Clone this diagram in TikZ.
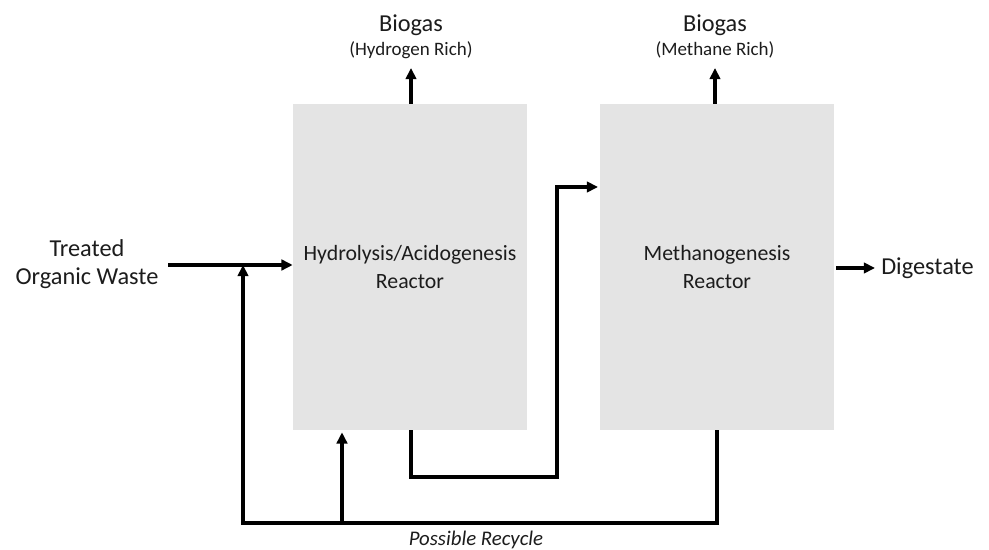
\documentclass[tikz,border=0pt]{standalone}
\usepackage{fontspec}
\setmainfont{Carlito}
\usepackage{xcolor}
\usetikzlibrary{arrows.meta,calc}
\definecolor{reactorgray}{HTML}{E4E4E4}
\definecolor{inkgray}{HTML}{1C1C1C}

\begin{document}
\begin{tikzpicture}[x=0.025cm,y=-0.025cm,text=inkgray,
  reactor/.style={fill=reactorgray,minimum width=5.85cm,minimum height=8.15cm,
    align=center,font=\fontsize{15.5}{19.5}\selectfont,inner sep=0pt},
  flow/.style={line width=2.3pt,-{Triangle[length=8pt,width=7.5pt]}},
  big/.style={font=\fontsize{17.3}{20}\selectfont,align=center,inner sep=0pt},
  small/.style={font=\fontsize{13.5}{15}\selectfont,inner sep=0pt}]
\useasboundingbox (0,0) rectangle (989,550);
% reactors
\node[reactor] (hyd) at (410,267) {Hydrolysis/Acidogenesis\\Reactor};
\node[reactor] (meth) at (717,267) {Methanogenesis\\Reactor};
% labels
\node[big] (waste) at (87,264) {Treated\\Organic Waste};
\node[big] (gasA) at (411,25) {Biogas};
\node[small] (richA) at (411,50) {(Hydrogen Rich)};
\node[big] (gasB) at (715,25) {Biogas};
\node[small] (richB) at (715,50) {(Methane Rich)};
\node[big,anchor=west] (dig) at (881,268) {Digestate};
\node[font=\fontsize{14.8}{16}\selectfont\itshape,inner sep=0pt] (rec) at (476,540) {Possible Recycle};
% helper points
\coordinate (inA) at (168,265);
\coordinate (topA) at (411,68);
\coordinate (topB) at (715,68);
\coordinate (low) at (411,477);
\coordinate (riser) at (557,477);
\coordinate (feedB) at (598,187);
\coordinate (retR) at (717,523);
\coordinate (retL) at (243,523);
\coordinate (join) at (243,265);
\coordinate (tap) at (342,523);
% flows
\draw[flow] (inA) -- (hyd.west |- inA);
\draw[flow] (hyd.north -| topA) -- (topA);
\draw[flow] (meth.north -| topB) -- (topB);
\draw[flow] (hyd.south -| low) -- (low) -- (riser) |- (feedB);
\draw[flow] (meth.east |- dig.west) ++(2,0) -- ($(dig.west)+(-6,0)$);
\draw[flow] (meth.south) -- (retR) -- (retL) -- (join);
\draw[flow] (tap) -- ($(hyd.south -| tap)+(0,2)$);
\end{tikzpicture}
\end{document}
